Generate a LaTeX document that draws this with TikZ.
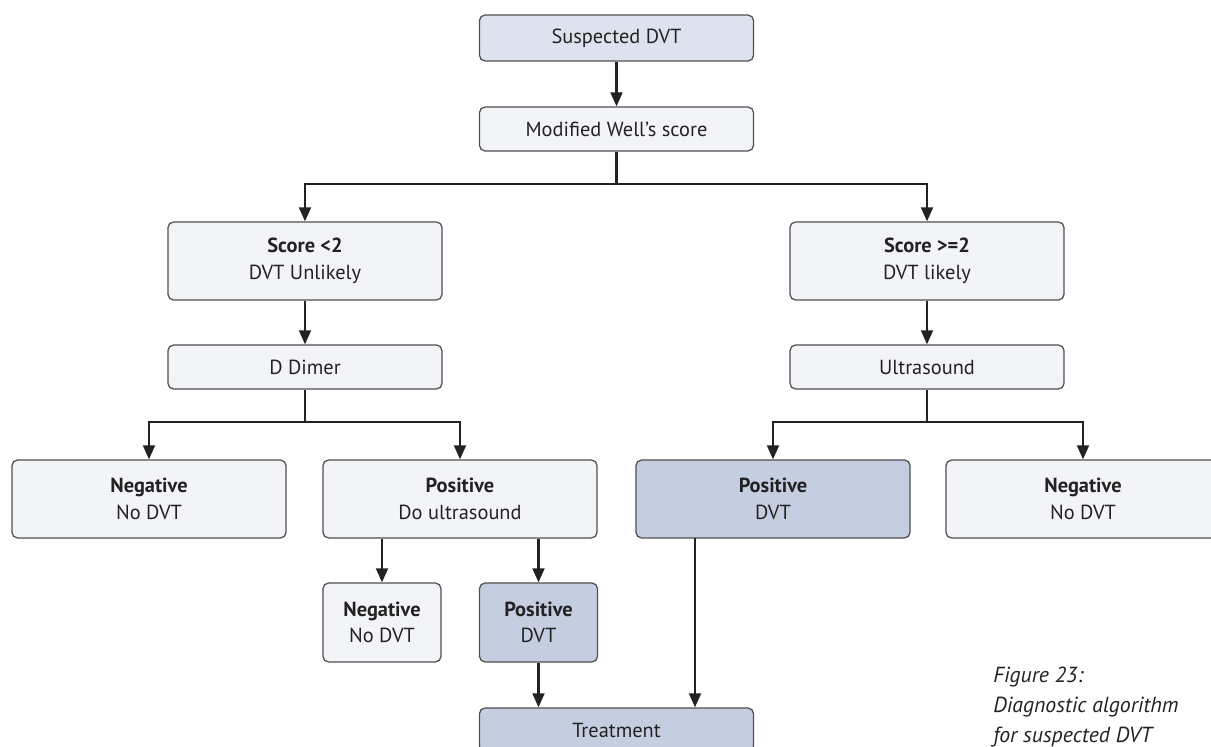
\documentclass[tikz,border=0pt]{standalone}
\usepackage{fontspec}
\setmainfont{PT Sans}
\usepackage{tikz}
\usetikzlibrary{arrows.meta}
\definecolor{boxpale}{HTML}{F3F4F8}
\definecolor{boxtop}{HTML}{DDE3EE}
\definecolor{boxdark}{HTML}{C5CEE0}
\definecolor{boxline}{HTML}{505050}
\definecolor{ink}{HTML}{222222}

\begin{document}
\begin{tikzpicture}[x=0.025cm, y=-0.025cm,
        stepbox/.style={draw=boxline, line width=0.9pt, rounded corners=4pt, fill=boxpale,
            align=center, inner sep=0pt, text=ink, font=\fontsize{14.5}{19}\selectfont},
        wide/.style={stepbox, minimum width=6.85cm, minimum height=1.1cm},
        tall/.style={stepbox, minimum width=6.85cm, minimum height=1.95cm},
        narrow/.style={stepbox, minimum width=2.95cm, minimum height=1.975cm},
        dark/.style={fill=boxdark},
        link/.style={line width=1.5pt, draw=ink},
        flow/.style={link, -{Triangle[length=10pt,width=8.5pt]}}]
        \useasboundingbox (0,0) rectangle (1211,747);
        \clip (0,0) rectangle (1211,747);
        % boxes
        \node[wide, fill=boxtop, minimum height=1.15cm] (suspect) at (616.5,38) {Suspected DVT};
        \node[wide] (wells) at (616.5,129) {Modified Well’s score};
        \node[tall] (low) at (305,261) {\textbf{Score <2}\\DVT Unlikely};
        \node[tall] (high) at (927,261) {\textbf{Score >=2}\\DVT likely};
        \node[wide] (dimer) at (305,367) {D Dimer};
        \node[wide] (ultra) at (927,367) {Ultrasound};
        \node[tall] (dimerneg) at (149,499) {\textbf{Negative}\\No DVT};
        \node[tall] (dimerpos) at (460,499) {\textbf{Positive}\\Do ultrasound};
        \node[tall, dark] (ultrapos) at (773,499) {\textbf{Positive}\\DVT};
        \node[tall] (ultraneg) at (1083,499) {\textbf{Negative}\\No DVT};
        \node[narrow] (secondneg) at (382,622.5) {\textbf{Negative}\\No DVT};
        \node[narrow, dark] (secondpos) at (538.5,622.5) {\textbf{Positive}\\DVT};
        \node[wide, dark] (treat) at (616.5,730) {Treatment};
        \node[anchor=north west, align=left, inner sep=0pt, text=ink,
            font=\itshape\fontsize{15.5}{21.3}\selectfont] (caption) at (993,667)
            {Figure 23:\\Diagnostic algorithm\\for suspected DVT};
        % split points
        \coordinate (split) at (616.5,184);
        \coordinate (dimersplit) at (305,422);
        \coordinate (ultrasplit) at (927,422);
        \coordinate (drop) at (695,538);
        % connectors
        \draw[flow] (suspect) -- (wells);
        \draw[link] (wells) -- (split);
        \draw[flow] (split) -| (low);
        \draw[flow] (split) -| (high);
        \draw[flow] (low) -- (dimer);
        \draw[flow] (high) -- (ultra);
        \draw[link] (dimer) -- (dimersplit);
        \draw[flow] (dimersplit) -| (dimerneg);
        \draw[flow] (dimersplit) -| (dimerpos);
        \draw[link] (ultra) -- (ultrasplit);
        \draw[flow] (ultrasplit) -| (ultrapos);
        \draw[flow] (ultrasplit) -| (ultraneg);
        \draw[flow] (secondneg |- dimerpos.south) -- (secondneg);
        \draw[flow] (secondpos |- dimerpos.south) -- (secondpos);
        \draw[flow] (secondpos) -- (secondpos |- treat.north);
        \draw[flow] (drop) -- (drop |- treat.north);
\end{tikzpicture}
\end{document}
